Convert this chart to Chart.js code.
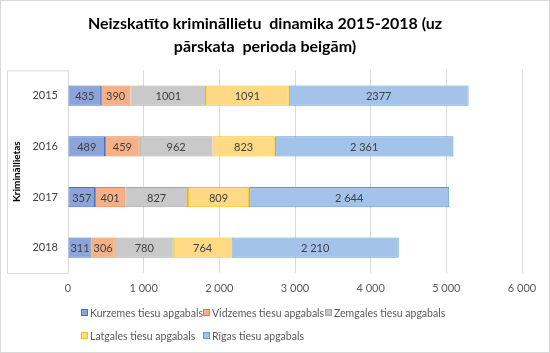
<!DOCTYPE html>
<html>
<head>
<meta charset="utf-8">
<script src="https://cdn.jsdelivr.net/npm/chart.js@4/dist/chart.umd.min.js"></script>
<style>
  html, body { margin: 0; padding: 0; background: #fff; }
  #wrap { position: relative; width: 550px; height: 353px; }
  canvas { position: absolute; left: 0; top: 0; }
  #legend { position: absolute; left: 81px; top: 305px; display: grid; grid-template-columns: 122px 122px 122px; row-gap: 8px;
            font-family: Lato, "Liberation Sans", sans-serif; font-size: 10.5px; color: #595959; }
  .item { display: flex; align-items: center; white-space: nowrap; height: 15px; }
  .box { display: inline-block; flex: 0 0 auto; box-sizing: border-box; width: 7px; height: 7px; margin-right: 2px; border: 1px solid; }
</style>
</head>
<body>
<div id="wrap">
  <canvas id="c" width="550" height="353"></canvas>
  <div id="legend"></div>
</div>
<script>
const titleLines = ['Neizskatīto krimināllietu  dinamika 2015-2018 (uz', 'pārskata  perioda beigām)'];
const yAxisTitle = 'Krimināllietas';
const years = ['2015', '2016', '2017', '2018'];
const seriesNames = ['Kurzemes tiesu apgabals', 'Vidzemes tiesu apgabals', 'Zemgales tiesu apgabals', 'Latgales tiesu apgabals', 'Rīgas tiesu apgabals'];
const kurzeme = [435, 489, 357, 311];
const vidzeme = [390, 459, 401, 306];
const zemgale = [1001, 962, 827, 780];
const latgale = [1091, 823, 809, 764];
const riga = [2377, 2361, 2644, 2210];
const labelGrouping = [false, true, true, true];
const xTicks = [0, 1000, 2000, 3000, 4000, 5000, 6000];
const fills = ['#8DA3DC', '#F5B088', '#C9C9C9', '#FFD985', '#A3C3EA'];
const borders = ['#4472C4', '#ED7D31', '#A5A5A5', '#FFC000', '#5B9BD5'];

const seriesValues = [kurzeme, vidzeme, zemgale, latgale, riga];
const fontFam = 'Lato, "Liberation Sans", sans-serif';

function fmt(v, group) {
  const s = String(v);
  if (!group) return s;
  return s.replace(/\B(?=(\d{3})+(?!\d))/g, ' ');
}

const frame = {
  id: 'frame',
  beforeDraw(chart) {
    const ctx = chart.ctx;
    const y = chart.scales.y;
    ctx.save();
    ctx.strokeStyle = '#D9D9D9';
    ctx.lineWidth = 1;
    ctx.strokeRect(0.5, 0.5, chart.width - 1, chart.height - 1);
    ctx.beginPath();
    ctx.moveTo(chart.chartArea.left, y.top + 0.5);
    ctx.lineTo(7.5, y.top + 0.5);
    ctx.lineTo(7.5, y.bottom + 0.5);
    ctx.lineTo(chart.chartArea.left, y.bottom + 0.5);
    ctx.stroke();
    ctx.restore();
  }
};

const barLabels = {
  id: 'barLabels',
  afterDatasetsDraw(chart) {
    const ctx = chart.ctx;
    ctx.save();
    ctx.font = '11px ' + fontFam;
    ctx.fillStyle = '#404040';
    ctx.textAlign = 'center';
    ctx.textBaseline = 'middle';
    chart.data.datasets.forEach((ds, di) => {
      const meta = chart.getDatasetMeta(di);
      meta.data.forEach((el, i) => {
        const p = el.getCenterPoint();
        ctx.fillText(fmt(ds.data[i], labelGrouping[i]), p.x, p.y + 1);
      });
    });
    ctx.restore();
  }
};

const datasets = seriesNames.map((name, i) => ({
  label: name,
  data: seriesValues[i],
  backgroundColor: fills[i],
  borderColor: borders[i],
  borderWidth: 1,
  borderSkipped: false,
  barPercentage: 0.4,
  categoryPercentage: 1
}));

new Chart(document.getElementById('c'), {
  type: 'bar',
  data: { labels: years, datasets },
  options: {
    indexAxis: 'y',
    responsive: false,
    animation: false,
    layout: { padding: { left: 8, right: 28, top: 8, bottom: 50 } },
    plugins: {
      legend: { display: false },
      tooltip: { enabled: false },
      title: {
        display: true,
        text: titleLines,
        color: '#000',
        font: { family: fontFam, size: 16, weight: 'bold', lineHeight: 1.45 },
        padding: { top: 4, bottom: 12 }
      }
    },
    scales: {
      x: {
        stacked: true,
        min: 0, max: 6000,
        afterBuildTicks(scale) { scale.ticks = xTicks.map(v => ({ value: v })); },
        afterFit(scale) { scale.height = 30; },
        ticks: {
          color: '#595959',
          font: { family: fontFam, size: 11 },
          padding: 9,
          maxRotation: 0,
          callback: (v) => fmt(v, true)
        },
        grid: { color: '#D9D9D9', drawTicks: false },
        border: { display: false }
      },
      y: {
        stacked: true,
        afterFit(scale) { scale.width = 60; },
        ticks: { color: '#404040', font: { family: fontFam, size: 11 }, padding: 10 },
        grid: { display: false, drawTicks: false },
        border: { display: false },
        title: {
          display: true,
          text: yAxisTitle,
          color: '#000',
          font: { family: fontFam, size: 10, weight: 'bold' },
          padding: { top: 3, bottom: 0 }
        }
      }
    }
  },
  plugins: [frame, barLabels]
});

const legend = document.getElementById('legend');
seriesNames.forEach((name, i) => {
  const it = document.createElement('div');
  it.className = 'item';
  const b = document.createElement('span');
  b.className = 'box';
  b.style.background = fills[i];
  b.style.borderColor = borders[i];
  const t = document.createElement('span');
  t.textContent = name;
  it.appendChild(b); it.appendChild(t);
  legend.appendChild(it);
});
</script>
</body>
</html>
